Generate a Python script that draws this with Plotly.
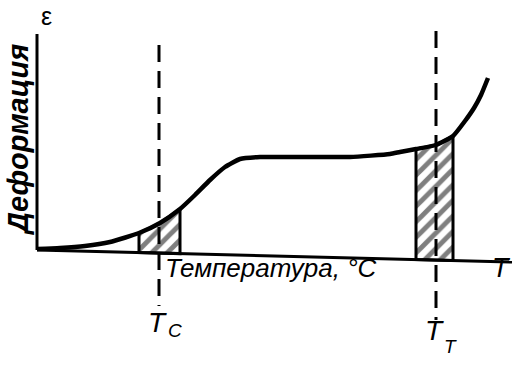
import plotly.graph_objects as go

# ---- data (temperature axis units, deformation units) ----
temp = [37, 60, 85, 110, 139, 160, 180, 195, 210, 225, 240, 260, 300, 350, 390, 400, 416, 436, 453, 465, 474, 481, 488]
deform_px = [249, 248, 246, 242, 233, 223, 209, 195, 180, 167, 159, 157, 157, 157, 154, 152, 149, 145, 136, 121, 108, 95, 78]
AXIS0 = 251
deform = [AXIS0 - v for v in deform_px]

# glass transition (T_C) and flow (T_T) intervals
zone_c = (139, 180)
zone_t = (416, 453)
t_c = 159
t_t = 436

# x axis (slightly tilted in the scan)
xaxis_x = [37, 512]
xaxis_y = [AXIS0 - 250, AXIS0 - 262]
yaxis_y = [AXIS0 - 250, AXIS0 - 34]


def axis_at(x):
    x0, x1 = xaxis_x
    y0, y1 = xaxis_y
    return y0 + (y1 - y0) * (x - x0) / (x1 - x0)


fig = go.Figure()

# hatched zones
for a, b in (zone_c, zone_t):
    xs = [x for x in temp if a <= x <= b]
    ys = [deform[temp.index(x)] for x in xs]
    px = xs + [b, a, a]
    py = ys + [axis_at(b), axis_at(a), ys[0]]
    fig.add_trace(go.Scatter(
        x=px, y=py, mode="lines", fill="toself",
        fillcolor="white",
        fillpattern=dict(shape="/", size=11, solidity=0.45, fgcolor="black", bgcolor="white"),
        line=dict(color="black", width=3), hoverinfo="skip", showlegend=False))

# dashed lines
fig.add_trace(go.Scatter(x=[t_c, t_c], y=[AXIS0 - 45, AXIS0 - 306], mode="lines",
                         line=dict(color="black", width=3, dash="17px,9px"), showlegend=False))
fig.add_trace(go.Scatter(x=[t_t, t_t], y=[AXIS0 - 31, AXIS0 - 320], mode="lines",
                         line=dict(color="black", width=3, dash="17px,9px"), showlegend=False))

# axes
fig.add_trace(go.Scatter(x=xaxis_x, y=xaxis_y, mode="lines",
                         line=dict(color="black", width=3), showlegend=False))
fig.add_trace(go.Scatter(x=[37, 37], y=yaxis_y, mode="lines",
                         line=dict(color="black", width=3), showlegend=False))

# curve
fig.add_trace(go.Scatter(x=temp, y=deform, mode="lines",
                         line=dict(color="black", width=4.5, shape="spline", smoothing=0.5),
                         showlegend=False))

F = "Liberation Sans, Arial, sans-serif"
ann = [
    dict(x=46, y=AXIS0 - 16, text="ε", font=dict(size=25)),
    dict(x=18, y=AXIS0 - 140, text="Деформация", textangle=-90,
         font=dict(size=29, weight="bold", style="italic")),
    dict(x=163, y=AXIS0 - 268, text="Температура, °C", xanchor="left",
         font=dict(size=26, style="italic")),
    dict(x=501, y=AXIS0 - 268, text="T", font=dict(size=27, style="italic")),
    dict(x=157, y=AXIS0 - 322, text="T", font=dict(size=28, style="italic")),
    dict(x=175, y=AXIS0 - 330, text="C", font=dict(size=19, style="italic")),
    dict(x=434, y=AXIS0 - 330, text="T", font=dict(size=28, style="italic")),
    dict(x=450, y=AXIS0 - 346, text="T", font=dict(size=19, style="italic")),
]
for a in ann:
    a.setdefault("xanchor", "center")
    a["yanchor"] = "middle"
    a["showarrow"] = False
    a["font"]["family"] = F
    a["font"]["color"] = "black"
fig.update_layout(annotations=ann)

fig.update_layout(
    width=525, height=369, margin=dict(l=0, r=0, t=0, b=0),
    paper_bgcolor="white", plot_bgcolor="white",
    xaxis=dict(range=[0, 525], visible=False, fixedrange=True),
    yaxis=dict(range=[AXIS0 - 369, AXIS0], visible=False, fixedrange=True),
    showlegend=False, hovermode=False,
)
fig.write_html("out.html", config={"displayModeBar": False},
               post_script="document.body.style.margin='0px';")
